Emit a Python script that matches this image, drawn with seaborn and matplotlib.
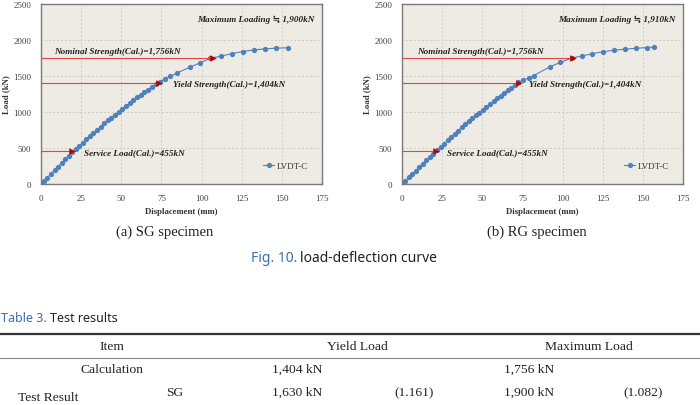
import matplotlib
matplotlib.use("Agg")
import matplotlib.pyplot as plt
import seaborn as sns
import pandas as pd
from matplotlib.lines import Line2D

# (a) SG specimen - LVDT-C readings
sg_disp = [0, 1.8, 3.9, 6.2, 8.5, 10.6, 12.8, 15.0, 17.2, 19.3, 21.5, 23.8, 26.0, 28.2,
           30.4, 32.6, 34.9, 37.1, 39.3, 41.6, 43.8, 46.1, 48.3, 50.6, 52.9, 55.2, 57.5,
           59.8, 62.1, 64.4, 66.8, 69.2, 71.6, 74.0, 77.0, 80.5, 85.0, 92.7, 98.8, 105.5,
           112.0, 118.7, 125.6, 132.6, 139.5, 146.3, 154.0]
sg_load = [0, 41, 89, 141, 193, 241, 291, 341, 391, 439, 485, 531, 575, 619,
           663, 707, 753, 797, 841, 883, 922, 962, 1000, 1041, 1081, 1121, 1161,
           1202, 1238, 1273, 1310, 1347, 1384, 1422, 1455, 1494, 1545, 1622, 1680, 1746,
           1776, 1810, 1840, 1862, 1877, 1886, 1893]

# (b) RG specimen - LVDT-C readings
rg_disp = [0, 2.0, 4.2, 6.4, 8.6, 10.8, 13.0, 15.2, 17.4, 19.6, 21.8, 24.0, 26.2, 28.4,
           30.6, 32.8, 35.0, 37.2, 39.4, 41.6, 43.8, 46.0, 48.2, 50.4, 52.6, 54.8, 57.0,
           59.2, 61.4, 63.6, 65.8, 68.0, 70.2, 72.4, 75.6, 78.8, 81.9, 92.3, 98.5, 105.8,
           112.0, 118.2, 125.1, 132.2, 139.0, 145.8, 152.8, 157.0]
rg_load = [0, 43, 91, 138, 186, 233, 281, 328, 376, 423, 471, 516, 562, 607,
           652, 697, 742, 788, 833, 874, 913, 953, 993, 1032, 1072, 1111, 1151,
           1191, 1228, 1264, 1301, 1337, 1374, 1410, 1442, 1474, 1505, 1630, 1688, 1750,
           1778, 1808, 1838, 1858, 1873, 1885, 1895, 1902]

calc_loads = [455, 1404, 1756]
calc_names = ["Service Load(Cal.)=455kN", "Yield Strength(Cal.)=1,404kN",
              "Nominal Strength(Cal.)=1,756kN"]
sg_calc_disp = [19.3, 73.6, 107.0]
rg_calc_disp = [21.0, 72.6, 106.4]
max_labels = ["Maximum Loading \u2252 1,900kN", "Maximum Loading \u2252 1,910kN"]
panel_titles = ["(a) SG specimen", "(b) RG specimen"]

x_ticks = [0, 25, 50, 75, 100, 125, 150, 175]
y_ticks = [0, 500, 1000, 1500, 2000, 2500]

table_head = ["Item", "Yield Load", "Maximum Load"]
calc_row = ["Calculation", "1,404 kN", "1,756 kN"]
sg_row = ["SG", "1,630 kN", "(1.161)", "1,900 kN", "(1.082)"]

W, H = 700, 406
sns.set_style("white")
plt.rcParams['font.family'] = ['Liberation Serif', 'DejaVu Serif']

fig = plt.figure(figsize=(7, 4.06), dpi=100)


def px(x, y):
    return x / W, 1 - y / H


serif_ann = ['Liberation Serif', 'DejaVu Sans']
text_pos = {
    0: [(27, 440), (82, 1395), (8, 1850)],
    1: [(28, 440), (79, 1390), (9.3, 1850)],
}

panels = [(sg_disp, sg_load, sg_calc_disp), (rg_disp, rg_load, rg_calc_disp)]
lefts = [41, 402]
for i, (disp, load, cdisp) in enumerate(panels):
    l = lefts[i]
    ax = fig.add_axes([l / W, 1 - 185 / H, 281 / W, 180 / H])
    ax.set_facecolor("#EDEBE3")
    df = pd.DataFrame({"disp": disp, "load": load})
    sns.lineplot(data=df, x="disp", y="load", ax=ax, color="#4F81BD", marker="o",
                 markersize=3.8, markeredgewidth=0, linewidth=0.8, label="LVDT-C")
    ax.hlines(calc_loads, 0, cdisp, color="#E04848", linewidth=0.8, zorder=3)
    ax.scatter(cdisp, calc_loads, marker=">", s=22, color="#C00000", zorder=4, linewidths=0)
    for (tx, ty), name in zip(text_pos[i], calc_names):
        ax.text(tx, ty, name, fontsize=6.6, fontweight="bold", style="italic",
                va="center", ha="left", color="#222222", family=serif_ann)
    ax.text(0.975, 0.915, max_labels[i], transform=ax.transAxes, fontsize=6.6,
            fontweight="bold", style="italic", ha="right", va="center",
            color="#222222", family=serif_ann)
    ax.set_xlim(0, 175)
    ax.set_ylim(0, 2500)
    ax.set_xticks(x_ticks)
    ax.set_yticks(y_ticks)
    ax.grid(True, color="#CFCDC4", linestyle=(0, (2, 2)), linewidth=0.7)
    ax.tick_params(axis="both", length=0, labelsize=6.5, colors="#444444", pad=7)
    for s in ax.spines.values():
        s.set_color("#7A7A7A")
        s.set_linewidth(1.0)
    ax.set_xlabel("Displacement (mm)", fontsize=6.3, fontweight="bold", color="#333333",
                  labelpad=4)
    ax.set_ylabel("Load (kN)", fontsize=6.3, fontweight="bold", color="#333333",
                  labelpad=2)
    ax.legend(loc="center left", bbox_to_anchor=(0.76, 0.1), frameon=False,
              fontsize=6.5, handlelength=1.3, handletextpad=0.3, labelcolor="#333333")

# sub captions
fig.text(*px(165, 232), panel_titles[0], fontsize=10.5, ha="center", va="center",
         color="#222222")
fig.text(*px(537, 232), panel_titles[1], fontsize=10.5, ha="center", va="center",
         color="#222222")

# figure caption
fig.text(*px(297, 258), "Fig. 10.", fontsize=10, ha="right", va="center",
         color="#3D6DB5", family="Noto Sans")
fig.text(*px(300, 258), "load-deflection curve", fontsize=10, ha="left", va="center",
         color="#222222", family="Noto Sans")

# table title
fig.text(*px(1, 318), "Table 3.", fontsize=9, ha="left", va="center",
         color="#3D6DB5", family="Noto Sans")
fig.text(*px(50, 318), "Test results", fontsize=9, ha="left", va="center",
         color="#222222", family="Noto Sans")

# table rules
fig.add_artist(Line2D([0, 1], [1 - 335 / H] * 2, color="#333333", linewidth=1.6))
fig.add_artist(Line2D([0, 1], [1 - 359 / H] * 2, color="#888888", linewidth=0.8))

tkw = dict(fontsize=9.7, ha="center", va="center", color="#222222")
for x, t in zip([112, 357, 589], table_head):
    fig.text(*px(x, 347), t, **tkw)
for x, t in zip([112, 297, 529], calc_row):
    fig.text(*px(x, 370), t, **tkw)
for x, t in zip([175, 297, 414, 529, 643], sg_row):
    fig.text(*px(x, 393), t, **tkw)
fig.text(*px(48, 398), "Test Result", **tkw)

fig.savefig("out.png", dpi=100)
